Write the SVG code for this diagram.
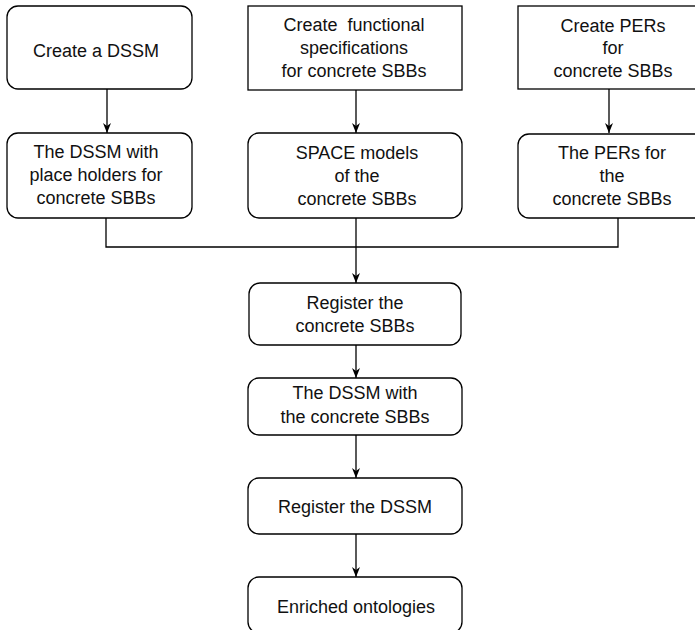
<svg xmlns="http://www.w3.org/2000/svg" width="695" height="630" viewBox="0 0 695 630">
  <style>
    .box { fill: #ffffff; stroke: #000000; stroke-width: 1.3; }
    .edge { fill: none; stroke: #000000; stroke-width: 1.3; }
    text { font-family: "Liberation Sans", Arial, Helvetica, sans-serif; font-size: 18px; fill: #111111; text-anchor: middle; }
  </style>
  <defs>
    <marker id="arrow" viewBox="0 0 10 8" refX="10" refY="4" markerWidth="10" markerHeight="8" markerUnits="userSpaceOnUse" orient="auto">
      <path d="M0,0 L10,4 L0,8 L3,4 z" fill="#000000"/>
    </marker>
  </defs>
  <rect width="695" height="630" fill="#ffffff"/>

  <!-- connectors -->
  <g id="connectors">
    <path class="edge" d="M107,89 L107,133" marker-end="url(#arrow)"/>
    <path class="edge" d="M356,90 L356,133" marker-end="url(#arrow)"/>
    <path class="edge" d="M609,89 L609,133" marker-end="url(#arrow)"/>
    <path class="edge" d="M106,218 L106,247 L618,247 L618,218"/>
    <path class="edge" d="M356,218 L356,283" marker-end="url(#arrow)"/>
    <path class="edge" d="M356,345 L356,378" marker-end="url(#arrow)"/>
    <path class="edge" d="M356,435 L356,478" marker-end="url(#arrow)"/>
    <path class="edge" d="M356,534 L356,577" marker-end="url(#arrow)"/>
  </g>

  <!-- top row -->
  <g id="create-dssm">
    <rect class="box" x="7" y="6" width="185" height="83" rx="11"/>
    <text x="96" y="57">Create a DSSM</text>
  </g>
  <g id="create-functional-specs">
    <rect class="box" x="248" y="6" width="214" height="84"/>
    <text x="354" y="31" xml:space="preserve">Create  functional</text>
    <text x="354" y="54">specifications</text>
    <text x="354" y="77">for concrete SBBs</text>
  </g>
  <g id="create-pers">
    <rect class="box" x="518" y="6" width="192" height="83"/>
    <text x="613" y="32">Create PERs</text>
    <text x="613" y="54">for</text>
    <text x="613" y="77">concrete SBBs</text>
  </g>

  <!-- second row -->
  <g id="dssm-placeholders">
    <rect class="box" x="7" y="133" width="185" height="85" rx="11"/>
    <text x="96" y="158">The DSSM with</text>
    <text x="96" y="181">place holders for</text>
    <text x="96" y="204">concrete SBBs</text>
  </g>
  <g id="space-models">
    <rect class="box" x="248" y="133" width="214" height="85" rx="11"/>
    <text x="357" y="159">SPACE models</text>
    <text x="357" y="182">of the</text>
    <text x="357" y="205">concrete SBBs</text>
  </g>
  <g id="pers-for-sbbs">
    <rect class="box" x="518" y="134" width="192" height="84" rx="11"/>
    <text x="612" y="159">The PERs for</text>
    <text x="612" y="182">the</text>
    <text x="612" y="205">concrete SBBs</text>
  </g>

  <!-- central column -->
  <g id="register-sbbs">
    <rect class="box" x="249" y="283" width="212" height="62" rx="11"/>
    <text x="355" y="309">Register the</text>
    <text x="355" y="332">concrete SBBs</text>
  </g>
  <g id="dssm-with-sbbs">
    <rect class="box" x="248" y="378" width="214" height="57" rx="11"/>
    <text x="355" y="399">The DSSM with</text>
    <text x="355" y="423">the concrete SBBs</text>
  </g>
  <g id="register-dssm">
    <rect class="box" x="248" y="478" width="214" height="56" rx="11"/>
    <text x="355" y="513">Register the DSSM</text>
  </g>
  <g id="enriched-ontologies">
    <rect class="box" x="248" y="577" width="214" height="56" rx="11"/>
    <text x="356" y="613">Enriched ontologies</text>
  </g>
</svg>
